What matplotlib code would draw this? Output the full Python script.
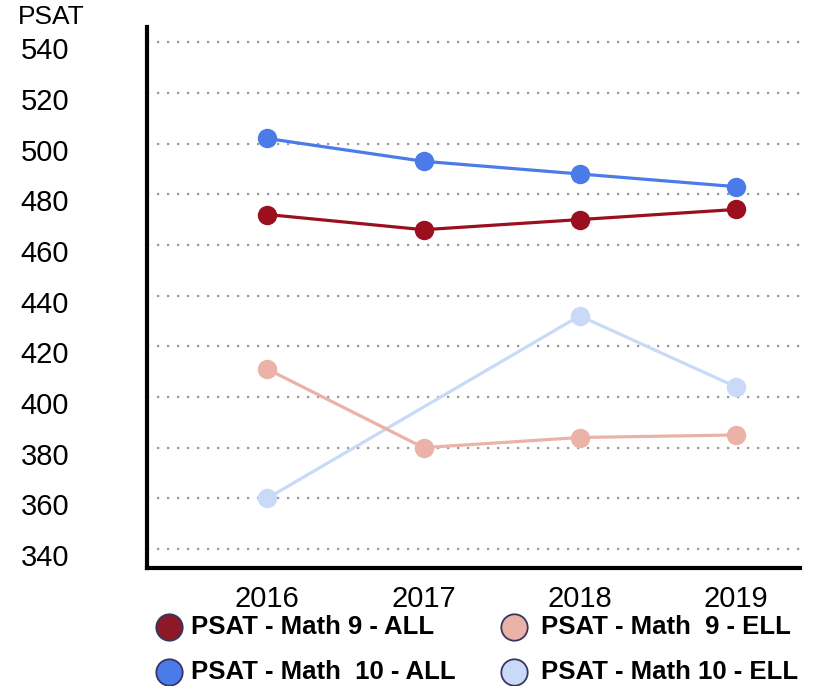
import matplotlib
matplotlib.use("Agg")
import matplotlib.pyplot as plt
import matplotlib.transforms as mtransforms
from matplotlib.lines import Line2D
import numpy as np

plt.rcParams['font.family'] = ['Liberation Sans', 'DejaVu Sans']

years = ["2016", "2017", "2018", "2019"]
math9_all = [472, 466, 470, 474]
math10_all = [502, 493, 488, 483]
math9_ell = [411, 380, 384, 385]
math10_ell = [360, None, 432, 404]
y_ticks = [340, 360, 380, 400, 420, 440, 460, 480, 500, 520, 540]

series = [
    ("PSAT - Math 9 - ALL", math9_all, "#9b0f1f", "#8b1a26"),
    ("PSAT - Math  10 - ALL", math10_all, "#4a7be8", "#4a7be8"),
    ("PSAT - Math  9 - ELL", math9_ell, "#ebb2a7", "#ebb2a7"),
    ("PSAT - Math 10 - ELL", math10_ell, "#c8daf8", "#c8daf8"),
]

W, H = 818, 686
fig = plt.figure(figsize=(W / 100, H / 100), dpi=100)
ax = fig.add_axes([147 / W, 1 - 568 / H, (800 - 147) / W, (568 - 27) / H])

x = np.arange(len(years))
for label, vals, col, lcol in [series[3], series[2], series[1], series[0]]:
    xs = [xi for xi, v in zip(x, vals) if v is not None]
    ys = [v for v in vals if v is not None]
    ax.plot(xs, ys, color=col, lw=2.3, marker='o', markersize=14,
            markeredgewidth=0, zorder=3)

ax.set_xlim(-0.77, 3.41)
ax.set_ylim(332.5, 546)
ax.set_yticks(y_ticks)
ax.set_yticklabels([str(t) for t in y_ticks], fontsize=21)
ax.set_xticks(x)
ax.set_xticklabels(years, fontsize=21)
ax.tick_params(axis='y', length=0, pad=56)
ax.tick_params(axis='x', length=0, pad=12)
offset = mtransforms.ScaledTranslation(0, -6 / 100, fig.dpi_scale_trans)
for lab in ax.get_yticklabels():
    lab.set_transform(lab.get_transform() + offset)

ax.grid(axis='y', color='#999999', linestyle=(0, (1, 3.5)), lw=1.6)
ax.grid(axis='x', visible=False)
for s in ['top', 'right']:
    ax.spines[s].set_visible(False)
for s in ['left', 'bottom']:
    ax.spines[s].set_linewidth(3)
    ax.spines[s].set_color('black')

fig.text(18 / W, 1 - 17 / H, "PSAT", fontsize=19, ha='left', va='center')

# legend (manual placement, 2x2 grid)
positions = [(169, 191, 627), (169, 191, 672), (514, 541, 627), (514, 541, 672)]
for (label, vals, col, lcol), (mx, tx, ty) in zip(series, positions):
    fig.add_artist(Line2D([mx / W], [1 - ty / H], transform=fig.transFigure,
                          linestyle='none', marker='o', markersize=19,
                          markerfacecolor=lcol, markeredgecolor='#3a3560',
                          markeredgewidth=1.3))
    fig.text(tx / W, 1 - ty / H, label, fontsize=18.5, fontweight='bold',
             ha='left', va='center')

fig.savefig("out.png", dpi=100)
